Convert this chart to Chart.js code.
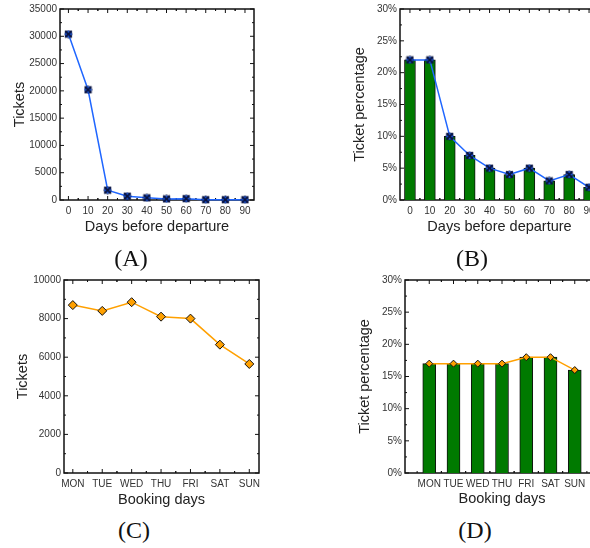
<!DOCTYPE html>
<html>
<head>
<meta charset="utf-8">
<script src="https://cdn.jsdelivr.net/npm/chart.js@4.4.1/dist/chart.umd.min.js"></script>
<style>
  html, body { margin: 0; padding: 0; background: #fff; overflow: hidden; }
  #wrap { position: relative; width: 590px; height: 548px; overflow: hidden; }
  canvas { position: absolute; }
  .cap { position: absolute; font-family: "Liberation Serif", serif; font-size: 24px; color: #111;
         transform: translate(-50%, -50%); white-space: nowrap; }
</style>
</head>
<body>
<div id="wrap">
  <canvas id="chartA" width="295" height="240" style="left:0;top:0"></canvas>
  <canvas id="chartB" width="320" height="240" style="left:295px;top:0"></canvas>
  <canvas id="chartC" width="295" height="240" style="left:0;top:270px"></canvas>
  <canvas id="chartD" width="320" height="240" style="left:295px;top:270px"></canvas>
  <div class="cap" style="left:131px;top:258px">(A)</div>
  <div class="cap" style="left:472px;top:258px">(B)</div>
  <div class="cap" style="left:134px;top:530px">(C)</div>
  <div class="cap" style="left:475px;top:530px">(D)</div>
</div>
<script>
// データ
const daysBefore = [0, 10, 20, 30, 40, 50, 60, 70, 80, 90];
const ticketsByDays = [30400, 20200, 1800, 700, 400, 200, 250, 50, 50, 50];
const percentByDays = [22, 22, 10, 7, 5, 4, 5, 3, 4, 2];

const bookingDays = ['MON', 'TUE', 'WED', 'THU', 'FRI', 'SAT', 'SUN'];
const ticketsByWeekday = [8700, 8400, 8850, 8100, 8000, 6650, 5650];
const percentByWeekday = [17, 17, 17, 17, 18, 18, 16];

const FONT = '"Liberation Sans", Arial, sans-serif';
const tickFont = { family: FONT, size: 10 };
const titleFont = { family: FONT, size: 14.5 };
const TICK_COLOR = '#333';
const TITLE_COLOR = '#222';
const BLUE = '#1f66ff';
const ORANGE = '#ffa000';
const GREEN = '#007a00';

Chart.defaults.animation = false;
Chart.defaults.responsive = false;
Chart.defaults.plugins.legend.display = false;
Chart.defaults.plugins.tooltip.enabled = false;

// 青い×マーカー
function crossMarker() {
    const c = document.createElement('canvas');
    c.width = 9; c.height = 9;
    const g = c.getContext('2d');
    g.fillStyle = BLUE;
    g.beginPath();
    g.arc(4.5, 4.5, 3.6, 0, Math.PI * 2);
    g.fill();
    g.strokeStyle = '#0a1440';
    g.lineWidth = 2;
    g.beginPath();
    g.moveTo(1.2, 1.2); g.lineTo(7.8, 7.8);
    g.moveTo(7.8, 1.2); g.lineTo(1.2, 7.8);
    g.stroke();
    g.lineWidth = 0.8;
    g.beginPath();
    g.arc(4.5, 4.5, 3.6, 0, Math.PI * 2);
    g.stroke();
    return c;
}
const marker = crossMarker();

// 枠線と内向きの目盛りを描くプラグイン
const frameTicks = {
    id: 'frameTicks',
    beforeDatasetsDraw(chart) {
        const { ctx, chartArea: a, scales: { x, y } } = chart;
        ctx.save();
        ctx.strokeStyle = '#111';
        ctx.lineWidth = 1;
        ctx.beginPath();
        const yp = y.ticks.map((t, i) => y.getPixelForTick(i));
        yp.forEach((py, i) => {
            ctx.moveTo(a.left, py); ctx.lineTo(a.left + 4, py);
            ctx.moveTo(a.right, py); ctx.lineTo(a.right - 4, py);
            if (i < yp.length - 1) {
                const m = (py + yp[i + 1]) / 2;
                ctx.moveTo(a.left, m); ctx.lineTo(a.left + 2, m);
                ctx.moveTo(a.right, m); ctx.lineTo(a.right - 2, m);
            }
        });
        const xp = x.ticks.map((t, i) => x.getPixelForTick(i));
        const step = xp.length > 1 ? xp[1] - xp[0] : 0;
        xp.forEach((px, i) => {
            ctx.moveTo(px, a.bottom); ctx.lineTo(px, a.bottom - 4);
            ctx.moveTo(px, a.top); ctx.lineTo(px, a.top + 4);
            [px - step / 2, px + step / 2].forEach(m => {
                if (m > a.left && m < a.right) {
                    ctx.moveTo(m, a.bottom); ctx.lineTo(m, a.bottom - 2);
                    ctx.moveTo(m, a.top); ctx.lineTo(m, a.top + 2);
                }
            });
        });
        ctx.stroke();
        ctx.lineWidth = 1.5;
        ctx.strokeRect(a.left, a.top, a.right - a.left, a.bottom - a.top);
        ctx.restore();
    }
};

const noGrid = { display: false, drawTicks: false };

function yAxis(opts) {
    return {
        min: 0,
        max: opts.max,
        grid: noGrid,
        border: { display: false },
        ticks: {
            stepSize: opts.step,
            font: tickFont,
            color: TICK_COLOR,
            padding: 3,
            callback: opts.callback
        },
        title: {
            display: true,
            text: opts.title,
            font: titleFont,
            color: TITLE_COLOR,
            padding: { top: opts.titleOffset, bottom: 0 }
        },
        afterFit: s => { s.width = opts.width; }
    };
}

function xTitle(text, bottom) {
    return {
        display: true,
        text: text,
        font: titleFont,
        color: TITLE_COLOR,
        padding: { top: 0, bottom: bottom }
    };
}

// (A) 出発前日数ごとのチケット数
new Chart(document.getElementById('chartA'), {
    type: 'line',
    data: {
        datasets: [{
            data: daysBefore.map((d, i) => ({ x: d, y: ticketsByDays[i] })),
            borderColor: BLUE,
            borderWidth: 1.5,
            pointStyle: marker,
            clip: false
        }]
    },
    options: {
        layout: { padding: { top: 6, right: 41, left: 0, bottom: 0 } },
        scales: {
            x: {
                type: 'linear',
                min: -4.3,
                max: 94.6,
                afterBuildTicks: s => { s.ticks = daysBefore.map(v => ({ value: v })); },
                grid: noGrid,
                border: { display: false },
                ticks: { font: tickFont, color: TICK_COLOR, padding: 5, autoSkip: false, callback: v => String(v) },
                title: xTitle('Days before departure', 4),
                afterFit: s => { s.height = 40; }
            },
            y: yAxis({ max: 35000, step: 5000, title: 'Tickets', titleOffset: 11, width: 60, callback: v => String(v) })
        }
    },
    plugins: [frameTicks]
});

// (B) 出発前日数ごとの割合
new Chart(document.getElementById('chartB'), {
    type: 'bar',
    data: {
        labels: daysBefore.map(String),
        datasets: [{
            type: 'line',
            data: percentByDays,
            borderColor: BLUE,
            borderWidth: 1.5,
            pointStyle: marker,
            clip: false,
            order: 0
        }, {
            type: 'bar',
            data: percentByDays,
            backgroundColor: GREEN,
            borderColor: '#111',
            borderWidth: 1,
            barThickness: 11,
            order: 1
        }]
    },
    options: {
        layout: { padding: { top: 6, right: 16, left: 0, bottom: 0 } },
        scales: {
            x: {
                grid: noGrid,
                border: { display: false },
                ticks: { font: tickFont, color: TICK_COLOR, padding: 5, autoSkip: false, maxRotation: 0 },
                title: xTitle('Days before departure', 4),
                afterFit: s => { s.height = 40; }
            },
            y: yAxis({ max: 30, step: 5, title: 'Ticket percentage', titleOffset: 56, width: 105, callback: v => v + '%' })
        }
    },
    plugins: [frameTicks]
});

// (C) 曜日ごとのチケット数
new Chart(document.getElementById('chartC'), {
    type: 'line',
    data: {
        datasets: [{
            data: bookingDays.map((d, i) => ({ x: i, y: ticketsByWeekday[i] })),
            borderColor: ORANGE,
            borderWidth: 1.5,
            pointStyle: 'rectRot',
            pointRadius: 4.5,
            pointBackgroundColor: ORANGE,
            pointBorderColor: '#111',
            pointBorderWidth: 1,
            clip: false
        }]
    },
    options: {
        layout: { padding: { top: 10, right: 36, left: 0, bottom: 0 } },
        scales: {
            x: {
                type: 'linear',
                min: -0.3,
                max: 6.33,
                afterBuildTicks: s => { s.ticks = bookingDays.map((d, i) => ({ value: i })); },
                grid: noGrid,
                border: { display: false },
                ticks: { font: tickFont, color: TICK_COLOR, padding: 5, autoSkip: false, maxRotation: 0,
                         callback: v => bookingDays[v] },
                title: xTitle('Booking days', 1),
                afterFit: s => { s.height = 37; }
            },
            y: yAxis({ max: 10000, step: 2000, title: 'Tickets', titleOffset: 14, width: 64, callback: v => String(v) })
        }
    },
    plugins: [frameTicks]
});

// (D) 曜日ごとの割合
new Chart(document.getElementById('chartD'), {
    type: 'bar',
    data: {
        datasets: [{
            type: 'line',
            data: bookingDays.map((d, i) => ({ x: i, y: percentByWeekday[i] })),
            borderColor: ORANGE,
            borderWidth: 1.5,
            pointStyle: 'rectRot',
            pointRadius: 3.5,
            pointBackgroundColor: ORANGE,
            pointBorderColor: '#111',
            pointBorderWidth: 1,
            clip: false,
            order: 0
        }, {
            type: 'bar',
            data: bookingDays.map((d, i) => ({ x: i, y: percentByWeekday[i] })),
            backgroundColor: GREEN,
            borderColor: '#111',
            borderWidth: 1,
            barThickness: 13,
            order: 1
        }]
    },
    options: {
        layout: { padding: { top: 10, right: 16, left: 0, bottom: 0 } },
        scales: {
            x: {
                type: 'linear',
                min: -1,
                max: 7,
                offset: false,
                afterBuildTicks: s => { s.ticks = bookingDays.map((d, i) => ({ value: i })); },
                grid: noGrid,
                border: { display: false },
                ticks: { font: tickFont, color: TICK_COLOR, padding: 5, autoSkip: false, maxRotation: 0,
                         callback: v => bookingDays[v] },
                title: xTitle('Booking days', 2),
                afterFit: s => { s.height = 37; }
            },
            y: yAxis({ max: 30, step: 5, title: 'Ticket percentage', titleOffset: 61, width: 110, callback: v => v + '%' })
        }
    },
    plugins: [frameTicks]
});
</script>
</body>
</html>
